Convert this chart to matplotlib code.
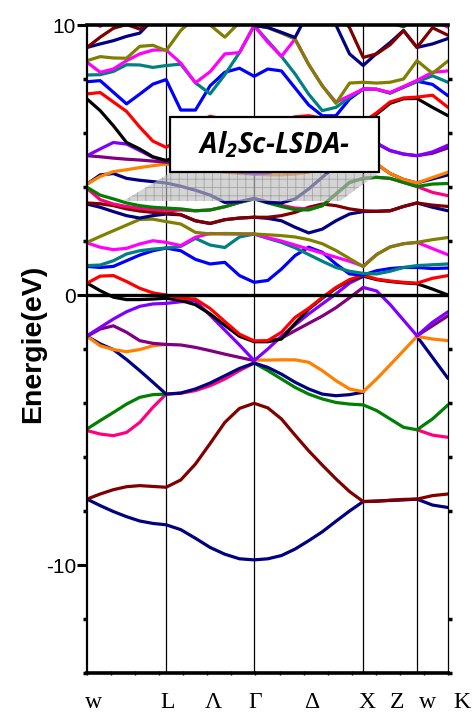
import numpy as np
import matplotlib
matplotlib.use("Agg")
import matplotlib.pyplot as plt
from matplotlib.patches import Polygon, Rectangle

plt.rcParams["font.family"] = ["Liberation Sans", "DejaVu Sans"]
plt.rcParams["mathtext.fontset"] = "custom"
plt.rcParams["mathtext.bf"] = "Open Sans:italic:bold"
plt.rcParams["hatch.linewidth"] = 0.6

n = np.nan

# high-symmetry path W-L-Gamma-X-W-K and samples per segment
kpts = [0.0, 0.219, 0.463, 0.765, 0.914, 1.0]
ndiv = [6, 6, 8, 4, 2]
xlabels = ["w", "L", "Λ", "Γ", "Δ", "X", "Z", "w", "K"]
xlabel_k = [0.017, 0.222, 0.349, 0.465, 0.623, 0.776, 0.859, 0.942, 1.039]

NAVY, MAROON, GREEN, PINK = "#000080", "#800000", "#008000", "#FF0080"
VIOLET, PURPLE, ORANGE, BLACK = "#8000FF", "#800080", "#FF8000", "#000000"
RED, BLUE, TEAL, OLIVE, MAGENTA = "#FF0000", "#0000FF", "#008080", "#808000", "#FF00FF"

# energies (eV): W-L (7) | L-G (6) | G-X (8) | X-W (4) | W-K (2)
navy_v1 = [-7.56, -7.80, -8.02, -8.21, -8.37, -8.46, -8.51,
           -8.69, -9.01, -9.35, -9.60, -9.77, -9.81,
           -9.77, -9.65, -9.41, -9.10, -8.77, -8.38, -8.00, -7.65,
           -7.63, -7.61, -7.59, -7.56,
           -7.78, -7.87]
maroon_v2 = [-7.56, -7.37, -7.21, -7.10, -7.06, -7.09, -7.12,
             -6.85, -6.26, -5.50, -4.72, -4.20, -4.01,
             -4.18, -4.59, -5.19, -5.77, -6.30, -6.81, -7.28, -7.65,
             -7.64, -7.60, -7.57, -7.56,
             -7.43, -7.37]
pink_v3 = [-5.02, -5.15, -5.21, -5.09, -4.72, -4.16, -3.67,
           -3.64, -3.54, -3.36, -3.11, -2.80, -2.52,
           n, n, n, n, n, n, n, n,
           n, n, n, -4.99,
           -5.19, -5.27]
green_v4 = [-4.96, -4.65, -4.35, -4.04, -3.79, -3.69, -3.67,
            n, n, n, n, n, -2.52,
            -2.80, -3.11, -3.42, -3.67, -3.85, -3.98, -4.04, -4.07,
            -4.28, -4.59, -4.90, -4.99,
            -4.59, -4.07]
navy_v5 = [-1.53, -1.81, -2.02, -2.39, -2.80, -3.23, -3.67,
           -3.63, -3.48, -3.26, -2.99, -2.72, -2.52,
           -2.68, -2.93, -3.23, -3.48, -3.67, -3.73, -3.69, -3.60,
           n, n, n, -1.53,
           -2.31, -3.09]
orange_v6 = [-1.53, -1.88, -2.02, -2.10, -2.02, -1.88, -1.83,
             n, n, n, n, n, -2.41,
             -2.41, -2.40, -2.40, -2.49, -2.80, -3.17, -3.48, -3.58,
             -3.11, -2.59, -2.06, -1.53,
             -1.63, -1.69]
purple_v7 = [-1.53, -1.26, -1.14, -1.38, -1.69, -1.79, -1.83,
             -1.85, -1.94, -2.06, -2.19, -2.31, -2.43,
             n, n, n, n, n, n, n, n,
             n, n, n, -1.51,
             -1.14, -0.77]
purple_v7b = [n, n, n, n, n, n, n,
              n, n, n, n, n, -1.72,
              -1.72, -1.60, -1.32, -1.05, -0.78, -0.47, -0.10, 0.28,
              n, n, n, n,
              n, n]
violet_v8 = [-1.51, -1.20, -0.89, -0.62, -0.42, -0.33, -0.31,
             -0.25, -0.22, -0.75, -1.30, -1.85, -2.43,
             n, n, n, n, n, n, n, n,
             n, n, n, n,
             n, n]
violet_v8b = [n, n, n, n, n, n, n,
              n, n, n, n, n, -2.43,
              -2.00, -1.53, -1.11, -0.70, -0.33, 0.04, 0.44, 0.69,
              n, n, n, n,
              n, n]
violet_v8c = [n, n, n, n, n, n, n,
              n, n, n, n, n, n,
              n, n, n, n, n, n, n, 0.28,
              0.15, -0.35, -0.93, -1.51,
              -1.01, -0.62]
black_v9 = [0.44, 0.16, -0.08, -0.17, -0.17, -0.15, -0.12,
            -0.20, -0.36, -0.70, -1.12, -1.53, -1.73,
            -1.73, -1.63, -1.05, -0.52, -0.12, 0.25, 0.54, 0.70,
            0.57, 0.50, 0.45, 0.42,
            0.22, 0.00]
red_v10 = [0.44, 0.70, 0.72, 0.50, 0.25, 0.08, 0.00,
           -0.12, -0.15, -0.50, -0.98, -1.45, -1.70,
           -1.69, -1.38, -0.83, -0.49, -0.09, 0.28, 0.57, 0.74,
           0.59, 0.52, 0.47, 0.44,
           0.62, 0.72]

blue_c1 = [1.06, 1.02, 1.06, 1.27, 1.48, 1.64, 1.74,
           1.64, 1.32, 1.15, 1.21, 0.72, 0.47,
           0.54, 0.96, 1.46, 1.77, 1.58, 1.15, 0.78, 0.74,
           0.90, 0.98, 1.02, 1.02,
           0.98, 1.00]
teal_c2 = [1.09, 1.11, 1.27, 1.52, 1.64, 1.70, 1.74,
           1.80, 2.10, 1.85, 1.76, 2.15, 2.26,
           2.10, 1.95, 1.75, 1.50, 1.25, 1.02, 0.88, 0.80,
           0.78, 0.88, 1.02, 1.09,
           1.12, 1.15]
magenta_c3 = [1.93, 1.77, 1.68, 1.73, 1.89, 2.01, 1.95,
              1.83, 2.14, 2.28, 2.26, 2.26, 2.26,
              2.12, 2.00, 1.85, 1.70, 1.55, 1.40, 1.25, 1.07,
              1.50, 1.78, 1.90, 1.95,
              1.72, 1.49]
olive_c4 = [1.95, 2.17, 2.38, 2.59, 2.80, 2.81, 2.72,
            2.63, 2.32, 2.26, 2.28, 2.27, 2.26,
            2.23, 2.20, 2.15, 2.05, 1.90, 1.65, 1.35, 1.05,
            1.50, 1.78, 1.90, 1.95,
            2.05, 2.13]
navy_c5 = [3.37, 3.25, 3.09, 2.94, 2.85, 2.94, 3.00,
           2.97, 2.75, 2.65, 2.79, 2.85, 2.88,
           2.84, 2.75, 2.51, 2.30, 2.44, 2.75, 3.00, 3.09,
           3.10, 3.12, 3.28, 3.41,
           3.25, 3.12]
maroon_c6 = [3.41, 3.38, 3.31, 3.19, 3.11, 3.06, 3.04,
             2.98, 2.75, 2.65, 2.79, 2.85, 2.88,
             2.88, 2.94, 3.06, 3.25, 3.37, 3.31, 3.19, 3.12,
             3.10, 3.12, 3.28, 3.41,
             3.33, 3.28]
pink_c7 = [3.95, 3.53, 3.37, 3.28, 3.21, 3.16, 3.12,
           3.15, 3.12, 3.15, 3.27, 3.43, 3.56,
           3.45, 3.32, 3.22, 3.18, 3.31, 3.74, 4.17, 4.32,
           4.36, 4.32, 4.17, 4.02,
           3.80, 3.68]
green_c8 = [3.99, 3.70, 3.56, 3.41, 3.31, 3.25, 3.22,
            3.19, 3.12, 3.15, 3.27, 3.43, 3.56,
            3.41, 3.28, 3.16, 3.15, 3.31, 3.74, 4.17, 4.32,
            4.36, 4.32, 4.17, 4.02,
            4.11, 4.13]
navy_c9 = [4.11, 4.45, 4.50, 4.32, 4.25, 4.20, 4.15,
           4.03, 3.88, 3.70, 3.43, 3.46, 3.58,
           3.43, 3.41, 3.56, 3.93, 4.36, 4.80, 5.00, 5.10,
           4.85, 4.50, 4.28, 4.15,
           4.30, 4.45]
orange_c10 = [4.11, 4.39, 4.57, 4.64, 4.72, 4.79, 4.85,
              4.78, 4.70, 4.62, 4.55, 4.50, 4.48,
              4.45, 4.45, 4.48, 4.55, 4.70, 4.85, 5.00, 5.10,
              4.85, 4.50, 4.28, 4.15,
              4.35, 4.55]
purple_c11 = [5.16, 5.12, 5.07, 5.03, 5.00, 4.96, 4.92,
              4.90, 4.85, 4.75, 4.65, 4.56, 4.50,
              4.52, 4.70, 5.00, 5.20, 5.40, 5.55, 5.65, 5.70,
              5.62, 5.35, 5.22, 5.16,
              5.25, 5.45]
violet_c12 = [5.16, 5.41, 5.65, 5.59, 5.35, 5.10, 4.98,
              5.00, 4.95, 4.80, 4.65, 4.55, 4.48,
              4.52, 4.70, 5.00, 5.20, 5.40, 5.55, 5.65, 5.70,
              5.62, 5.35, 5.22, 5.16,
              5.30, 5.55]
black_c13 = [7.26, 6.83, 6.27, 5.65, 5.41, 5.12, 4.98,
             5.20, 5.40, 5.50, 5.40, 5.30, 5.20,
             5.30, 5.50, 5.70, 5.90, 6.00, 6.10, 6.20, 6.30,
             6.70, 7.10, 7.27, 7.28,
             6.95, 6.64]
red_c14 = [7.45, 7.50, 7.15, 6.80, 6.22, 5.70, 5.47,
           5.80, 6.35, 6.62, 6.50, 6.30, 6.20,
           6.30, 6.45, 6.60, 6.64, 6.55, 6.45, 6.40, 6.40,
           6.75, 7.15, 7.30, 7.33,
           7.40, 6.95]
blue_c15 = [7.90, 7.94, 7.51, 7.08, 7.44, 7.81, 7.98,
            6.85, 6.85, 7.75, 8.25, 8.40, 8.10,
            8.37, 8.30, 7.67, 7.04, 6.64, 6.64, 7.26, 7.63,
            7.62, 7.48, 7.70, 7.92,
            7.80, 7.38]
teal_c16 = [8.15, 8.16, 8.28, 8.53, 8.52, 8.43, 8.50,
            8.55, 7.86, 7.45, 8.16, 8.98, 9.98,
            9.41, 8.84, 8.19, 7.44, 6.83, 6.95, 7.32, 7.63,
            7.62, 7.48, 7.70, 7.90,
            8.12, 7.88]
magenta_c17 = [8.62, 8.25, 8.37, 8.68, 8.93, 9.07, 9.08,
               8.59, 7.86, 8.27, 8.93, 8.98, 9.98,
               9.36, 8.84, 9.48, 8.54, 7.75, 7.14, 7.38, 7.63,
               7.62, 7.50, 7.72, 7.95,
               8.25, 8.30]
olive_c18 = [8.68, 8.83, 8.78, 8.77, 9.21, 9.25, 9.05,
             9.80, 10.30, 10.00, 9.55, 10.10, 10.00,
             9.90, 9.70, 9.48, 8.54, 7.75, 7.10, 7.85, 7.88,
             7.85, 7.88, 8.00, 8.68,
             8.21, 8.67]
navy_c19 = [9.17, 9.30, 9.42, 9.58, 9.70, 10.20, 10.50,
            n, n, n, n, n, 9.98,
            9.91, 9.73, 9.54, 10.50, 10.60, 10.00, 8.93, 8.50,
            8.95, 9.35, 9.80, 9.17,
            9.30, 9.50]
maroon_c20 = [9.17, 9.55, 9.88, 10.02, 9.85, 10.10, 10.50,
              n, n, n, n, n, n,
              n, n, n, n, n, 10.60, 9.90, 8.80,
              8.93, 9.27, 9.79, 9.17,
              9.90, 9.62]
magenta_c21 = [10.30, 9.95, 10.30, n, n, n, n,
               n, n, n, n, n, n,
               n, n, n, n, n, n, n, n,
               n, n, n, n,
               10.20, 9.92]
green_c22 = [n, n, n, n, n, n, n,
             n, n, n, n, n, n,
             n, n, n, n, n, n, n, n,
             10.30, 10.10, 9.93, 10.30,
             n, n]

bands = [
    (navy_v1, NAVY), (maroon_v2, MAROON), (pink_v3, PINK), (green_v4, GREEN),
    (navy_v5, NAVY), (orange_v6, ORANGE), (purple_v7, PURPLE), (purple_v7b, PURPLE),
    (violet_v8, VIOLET), (violet_v8b, VIOLET), (violet_v8c, VIOLET),
    (black_v9, BLACK), (red_v10, RED),
    (blue_c1, BLUE), (teal_c2, TEAL), (magenta_c3, MAGENTA), (olive_c4, OLIVE),
    (navy_c5, NAVY), (maroon_c6, MAROON), (pink_c7, PINK), (green_c8, GREEN),
    (navy_c9, NAVY), (orange_c10, ORANGE), (purple_c11, PURPLE), (violet_c12, VIOLET),
    (black_c13, BLACK), (red_c14, RED), (blue_c15, BLUE), (teal_c16, TEAL),
    (magenta_c17, MAGENTA), (olive_c18, OLIVE), (navy_c19, NAVY), (maroon_c20, MAROON),
    (magenta_c21, MAGENTA), (green_c22, GREEN),
]

kgrid = np.concatenate([
    np.linspace(kpts[i], kpts[i + 1], ndiv[i] + 1)[(0 if i == 0 else 1):]
    for i in range(len(ndiv))
])

fig = plt.figure(figsize=(4.75, 7.13), dpi=100)
ax = fig.add_axes([0.1832, 0.0561, 0.76, 0.9088])

for vals, col in bands:
    ax.plot(kgrid, vals, color=col, lw=2.3, solid_joinstyle="round",
            solid_capstyle="round", zorder=2)

for k in kpts[1:-1]:
    ax.axvline(k, color="black", lw=0.9, zorder=1.5)
ax.axhline(0, color="black", lw=2.4, zorder=4)

# hatched region and title box
shade = Polygon([(0.0997, 3.48), (0.2299, 4.52), (0.806, 4.50), (0.7008, 3.48)],
                closed=True, facecolor="#bdbdbd", edgecolor="#8a8a8a",
                hatch="++", lw=0, alpha=0.65, zorder=3)
ax.add_patch(shade)
box = Rectangle((0.230, 4.56), 0.579, 2.03, facecolor="white",
                edgecolor="black", lw=1.6, zorder=5)
ax.add_patch(box)
ax.text(0.519, 5.55, r"Al$\mathbf{_2}$Sc-LSDA-", family="Open Sans",
        fontweight="bold", fontstyle="italic", fontsize=20,
        ha="center", va="center", zorder=6)

ax.set_xlim(0, 1)
ax.set_ylim(-14, 10)
ax.set_xticks([])
ax.set_xticks(np.linspace(0, 1, 16), minor=True)
ax.tick_params(axis="x", which="minor", direction="inout", length=3,
               width=1, bottom=True, top=False)
ax.set_yticks([-10, 0, 10])
ax.set_yticklabels(["-10", "0", "10"])
ax.set_yticks(np.arange(-14, 11, 2), minor=True)
ax.tick_params(axis="y", which="major", direction="out", length=7, width=2.2,
               labelsize=15, pad=1, left=True, right=False)
ax.tick_params(axis="y", which="minor", direction="out", length=3, width=2.5,
               left=True, right=True)

ax.spines["left"].set_linewidth(1.6)
ax.spines["bottom"].set_linewidth(2.6)
ax.spines["top"].set_linewidth(2.6)
ax.spines["right"].set_linewidth(0.9)

for lab, kx in zip(xlabels, xlabel_k):
    ax.annotate(lab, xy=(kx, 0), xycoords=("data", "axes fraction"),
                xytext=(0, -21), textcoords="offset points", ha="center",
                va="center", fontsize=17, family="Liberation Serif",
                annotation_clip=False)

fig.text(33 / 475, 1 - 344 / 713, "Energie(eV)", rotation=90, ha="center",
         va="center", fontsize=20.5, fontweight="bold")

fig.savefig("out.png", dpi=100)
